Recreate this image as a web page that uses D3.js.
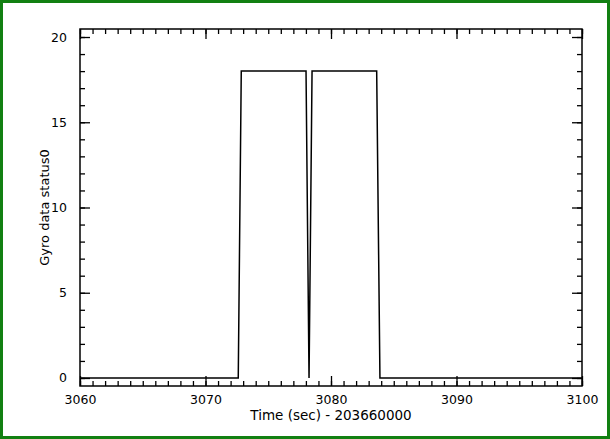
<!DOCTYPE html>
<html>
<head>
<meta charset="utf-8">
<script src="https://cdn.jsdelivr.net/npm/d3@7"></script>
<style>
  body { margin: 0; background: #fff; }
  svg { display: block; }
</style>
</head>
<body>
<div id="chart"></div>
<script>
// gyro status vs time (sec - 203660000)
var timeVals   = [3060, 3072.61, 3072.85, 3078.01, 3078.25, 3078.49, 3083.64, 3083.90, 3100];
var statusVals = [0,    0,       18,      18,      0,       18,      18,      0,       0];

var xTickVals = [3060, 3070, 3080, 3090, 3100];
var yTickVals = [0, 5, 10, 15, 20];

var W = 610, H = 439;
var margin = {top: 29, right: 28, bottom: 53, left: 80},
    width = W - margin.left - margin.right,
    height = H - margin.top - margin.bottom;

var svg = d3.select("#chart").append("svg").attr("width", W).attr("height", H);

// green frame
svg.append("rect")
  .attr("x", 1.5).attr("y", 1.5)
  .attr("width", W - 3).attr("height", H - 3)
  .attr("fill", "#fff")
  .attr("stroke", "#128012")
  .attr("stroke-width", 3);

var g = svg.append("g").attr("transform", "translate(" + margin.left + "," + margin.top + ")");

var x = d3.scaleLinear().domain([3060, 3100]).range([0, width]),
    y = d3.scaleLinear().domain([-0.47, 20.47]).range([height, 0]);

var font = "'DejaVu Sans', sans-serif";

// minor ticks
var xMinor = d3.range(3060, 3101, 1);
var yMinor = d3.range(0, 21, 1);

function tickAxis(axis, size, minor) {
  return axis.tickValues(minor).tickSize(size).tickFormat("");
}

// bottom
g.append("g").attr("transform", "translate(0," + height + ")")
  .call(tickAxis(d3.axisBottom(x), -5, xMinor));
g.append("g").attr("transform", "translate(0," + height + ")")
  .call(d3.axisBottom(x).tickValues(xTickVals).tickSize(-10).tickPadding(9).tickFormat(d3.format("d")));
// top
g.append("g").call(tickAxis(d3.axisTop(x), -5, xMinor));
g.append("g").call(tickAxis(d3.axisTop(x), -10, xTickVals));
// left
g.append("g").call(tickAxis(d3.axisLeft(y), -5, yMinor));
g.append("g")
  .call(d3.axisLeft(y).tickValues(yTickVals).tickSize(-10).tickPadding(13).tickFormat(d3.format("d")));
// right
g.append("g").attr("transform", "translate(" + width + ",0)").call(tickAxis(d3.axisRight(y), -5, yMinor));
g.append("g").attr("transform", "translate(" + width + ",0)").call(tickAxis(d3.axisRight(y), -10, yTickVals));

g.selectAll(".domain").remove();
g.selectAll(".tick line").attr("stroke", "#000").attr("stroke-width", 1.3);
g.selectAll(".tick text").attr("font-family", font).attr("font-size", 12.5).attr("fill", "#000");

g.append("rect")
  .attr("width", width).attr("height", height)
  .attr("fill", "none").attr("stroke", "#000").attr("stroke-width", 1.5);

var line = d3.line()
  .x(function(d, i) { return x(timeVals[i]); })
  .y(function(d) { return y(d); });

g.append("path")
  .datum(statusVals)
  .attr("fill", "none")
  .attr("stroke", "#000")
  .attr("stroke-width", 1.5)
  .attr("d", line);

// axis titles
svg.append("text")
  .attr("x", margin.left + width / 2).attr("y", 420)
  .attr("text-anchor", "middle")
  .attr("font-family", font).attr("font-size", 13.5)
  .text("Time (sec) - 203660000");

svg.append("text")
  .attr("transform", "translate(49," + (margin.top + height / 2) + ") rotate(-90)")
  .attr("text-anchor", "middle")
  .attr("font-family", font).attr("font-size", 13)
  .text("Gyro data status0");
</script>
</body>
</html>
